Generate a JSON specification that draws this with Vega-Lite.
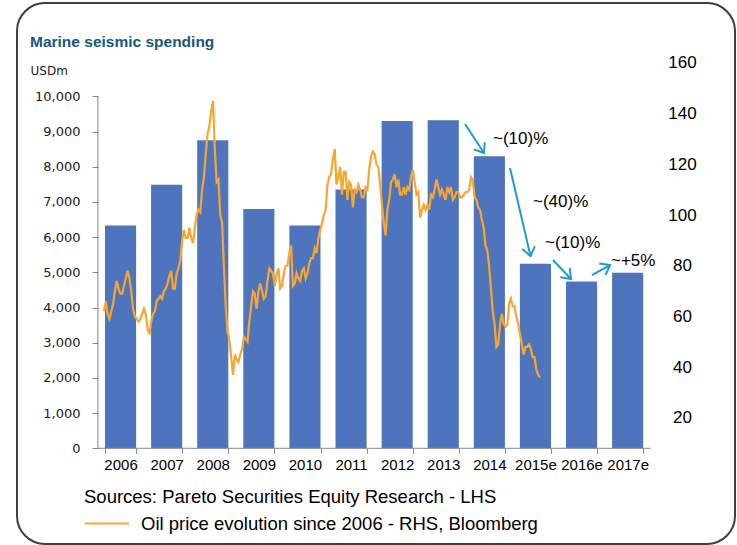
{
  "$schema": "https://vega.github.io/schema/vega-lite/v6.json",
  "width": 718,
  "height": 541,
  "autosize": {"type": "none"},
  "padding": {"left": 17, "top": 3, "right": 2, "bottom": 1},
  "background": "white",
  "config": {
    "view": {"stroke": "#3f3f3f", "strokeWidth": 2, "cornerRadius": 28},
    "font": "Liberation Sans"
  },
  "title": {
    "text": "Marine seismic spending",
    "anchor": "start",
    "frame": "group",
    "offset": 0,
    "dx": 13,
    "dy": 59,
    "baseline": "alphabetic",
    "font": "Liberation Sans",
    "fontSize": 15.5,
    "fontWeight": "bold",
    "color": "#17587A"
  },
  "datasets": {
    "spend": [
      {"year": "2006", "usdm": 6330},
      {"year": "2007", "usdm": 7490},
      {"year": "2008", "usdm": 8750},
      {"year": "2009", "usdm": 6800},
      {"year": "2010", "usdm": 6330},
      {"year": "2011", "usdm": 7350},
      {"year": "2012", "usdm": 9300},
      {"year": "2013", "usdm": 9320},
      {"year": "2014", "usdm": 8300},
      {"year": "2015e", "usdm": 5240},
      {"year": "2016e", "usdm": 4740},
      {"year": "2017e", "usdm": 4990}
    ],
    "frame": [
      {"x": 2005.86, "x2": 2005.86, "y": 0, "y2": 10000},
      {"x": 2005.86, "x2": 2018.54, "y": 0, "y2": 0}
    ],
    "arrows": [
      {"x0": 2014.280, "y0": 9213, "x1": 2014.716, "y1": 8389, "ang": 56.8},
      {"x0": 2015.312, "y0": 7963, "x1": 2015.782, "y1": 5463, "ang": 76.9},
      {"x0": 2016.298, "y0": 5349, "x1": 2016.711, "y1": 4810, "ang": 46.5},
      {"x0": 2017.193, "y0": 4923, "x1": 2017.606, "y1": 5207, "ang": -29}
    ],
    "notes": [
      {"x": 2014.922, "y": 8787, "label": "~(10)%"},
      {"x": 2015.839, "y": 7006, "label": "~(40)%"},
      {"x": 2016.115, "y": 5832, "label": "~(10)%"},
      {"x": 2017.628, "y": 5335, "label": "~+5%"}
    ],
    "oil": [
      {"t":2006.000,"p":62},{"t":2006.042,"p":66},{"t":2006.083,"p":61},{"t":2006.125,"p":59},{"t":2006.167,"p":62},{"t":2006.208,"p":65},{"t":2006.250,"p":70},{"t":2006.292,"p":74},{"t":2006.333,"p":71},{"t":2006.375,"p":69},{"t":2006.417,"p":69},{"t":2006.458,"p":72},{"t":2006.500,"p":75},{"t":2006.542,"p":78},{"t":2006.583,"p":75},{"t":2006.625,"p":70},{"t":2006.667,"p":63},{"t":2006.708,"p":60},{"t":2006.750,"p":59},{"t":2006.792,"p":58},{"t":2006.833,"p":59},{"t":2006.875,"p":61},{"t":2006.917,"p":63},{"t":2006.958,"p":61},
      {"t":2007.000,"p":55},{"t":2007.042,"p":53},{"t":2007.083,"p":58},{"t":2007.125,"p":61},{"t":2007.167,"p":62},{"t":2007.208,"p":66},{"t":2007.250,"p":67},{"t":2007.292,"p":68},{"t":2007.333,"p":67},{"t":2007.375,"p":70},{"t":2007.417,"p":71},{"t":2007.458,"p":73},{"t":2007.500,"p":76},{"t":2007.542,"p":78},{"t":2007.583,"p":71},{"t":2007.625,"p":71},{"t":2007.667,"p":77},{"t":2007.708,"p":79},{"t":2007.750,"p":82},{"t":2007.792,"p":90},{"t":2007.833,"p":94},{"t":2007.875,"p":91},{"t":2007.917,"p":91},{"t":2007.958,"p":95},
      {"t":2008.000,"p":91},{"t":2008.042,"p":89},{"t":2008.083,"p":95},{"t":2008.125,"p":100},{"t":2008.167,"p":102},{"t":2008.208,"p":101},{"t":2008.250,"p":110},{"t":2008.292,"p":115},{"t":2008.333,"p":124},{"t":2008.375,"p":132},{"t":2008.417,"p":135},{"t":2008.458,"p":141},{"t":2008.500,"p":145},{"t":2008.542,"p":126},{"t":2008.583,"p":113},{"t":2008.625,"p":114},{"t":2008.667,"p":100},{"t":2008.708,"p":97},{"t":2008.750,"p":80},{"t":2008.792,"p":64},{"t":2008.833,"p":54},{"t":2008.875,"p":51},{"t":2008.917,"p":44},{"t":2008.958,"p":37},
      {"t":2009.000,"p":45},{"t":2009.042,"p":43},{"t":2009.083,"p":42},{"t":2009.125,"p":45},{"t":2009.167,"p":47},{"t":2009.208,"p":52},{"t":2009.250,"p":51},{"t":2009.292,"p":50},{"t":2009.333,"p":58},{"t":2009.375,"p":64},{"t":2009.417,"p":70},{"t":2009.458,"p":69},{"t":2009.500,"p":63},{"t":2009.542,"p":70},{"t":2009.583,"p":73},{"t":2009.625,"p":70},{"t":2009.667,"p":67},{"t":2009.708,"p":68},{"t":2009.750,"p":74},{"t":2009.792,"p":79},{"t":2009.833,"p":78},{"t":2009.875,"p":77},{"t":2009.917,"p":72},{"t":2009.958,"p":77},
      {"t":2010.000,"p":79},{"t":2010.042,"p":71},{"t":2010.083,"p":72},{"t":2010.125,"p":77},{"t":2010.167,"p":80},{"t":2010.208,"p":80},{"t":2010.250,"p":85},{"t":2010.292,"p":88},{"t":2010.333,"p":72},{"t":2010.375,"p":73},{"t":2010.417,"p":77},{"t":2010.458,"p":75},{"t":2010.500,"p":74},{"t":2010.542,"p":78},{"t":2010.583,"p":79},{"t":2010.625,"p":75},{"t":2010.667,"p":77},{"t":2010.708,"p":81},{"t":2010.750,"p":83},{"t":2010.792,"p":83},{"t":2010.833,"p":87},{"t":2010.875,"p":85},{"t":2010.917,"p":91},{"t":2010.958,"p":94},
      {"t":2011.000,"p":97},{"t":2011.042,"p":100},{"t":2011.083,"p":102},{"t":2011.125,"p":112},{"t":2011.167,"p":115},{"t":2011.208,"p":116},{"t":2011.250,"p":122},{"t":2011.292,"p":126},{"t":2011.333,"p":112},{"t":2011.375,"p":115},{"t":2011.417,"p":119},{"t":2011.458,"p":108},{"t":2011.500,"p":117},{"t":2011.542,"p":117},{"t":2011.583,"p":106},{"t":2011.625,"p":113},{"t":2011.667,"p":112},{"t":2011.708,"p":103},{"t":2011.750,"p":110},{"t":2011.792,"p":109},{"t":2011.833,"p":112},{"t":2011.875,"p":110},{"t":2011.917,"p":107},{"t":2011.958,"p":107},
      {"t":2012.000,"p":111},{"t":2012.042,"p":110},{"t":2012.083,"p":118},{"t":2012.125,"p":123},{"t":2012.167,"p":125},{"t":2012.208,"p":124},{"t":2012.250,"p":120},{"t":2012.292,"p":119},{"t":2012.333,"p":112},{"t":2012.375,"p":104},{"t":2012.417,"p":97},{"t":2012.458,"p":92},{"t":2012.500,"p":102},{"t":2012.542,"p":106},{"t":2012.583,"p":113},{"t":2012.625,"p":114},{"t":2012.667,"p":116},{"t":2012.708,"p":111},{"t":2012.750,"p":114},{"t":2012.792,"p":108},{"t":2012.833,"p":108},{"t":2012.875,"p":111},{"t":2012.917,"p":108},{"t":2012.958,"p":111},
      {"t":2013.000,"p":110},{"t":2013.042,"p":115},{"t":2013.083,"p":118},{"t":2013.125,"p":113},{"t":2013.167,"p":108},{"t":2013.208,"p":109},{"t":2013.250,"p":99},{"t":2013.292,"p":102},{"t":2013.333,"p":104},{"t":2013.375,"p":102},{"t":2013.417,"p":104},{"t":2013.458,"p":102},{"t":2013.500,"p":108},{"t":2013.542,"p":107},{"t":2013.583,"p":110},{"t":2013.625,"p":114},{"t":2013.667,"p":111},{"t":2013.708,"p":108},{"t":2013.750,"p":110},{"t":2013.792,"p":108},{"t":2013.833,"p":106},{"t":2013.875,"p":111},{"t":2013.917,"p":109},{"t":2013.958,"p":111},
      {"t":2014.000,"p":106},{"t":2014.042,"p":107},{"t":2014.083,"p":109},{"t":2014.125,"p":109},{"t":2014.167,"p":107},{"t":2014.208,"p":107},{"t":2014.250,"p":108},{"t":2014.292,"p":109},{"t":2014.333,"p":109},{"t":2014.375,"p":110},{"t":2014.417,"p":115},{"t":2014.458,"p":114},{"t":2014.500,"p":107},{"t":2014.542,"p":106},{"t":2014.583,"p":103},{"t":2014.625,"p":102},{"t":2014.667,"p":98},{"t":2014.708,"p":95},{"t":2014.750,"p":88},{"t":2014.792,"p":86},{"t":2014.833,"p":80},{"t":2014.875,"p":71},{"t":2014.917,"p":62},{"t":2014.958,"p":57},
      {"t":2015.000,"p":48},{"t":2015.042,"p":49},{"t":2015.083,"p":57},{"t":2015.125,"p":61},{"t":2015.167,"p":57},{"t":2015.208,"p":56},{"t":2015.250,"p":57},{"t":2015.292,"p":65},{"t":2015.333,"p":67},{"t":2015.375,"p":64},{"t":2015.417,"p":64},{"t":2015.458,"p":60},{"t":2015.500,"p":57},{"t":2015.542,"p":53},{"t":2015.583,"p":49},{"t":2015.625,"p":45},{"t":2015.667,"p":48},{"t":2015.708,"p":48},{"t":2015.750,"p":49},{"t":2015.792,"p":47},{"t":2015.833,"p":44},{"t":2015.875,"p":44},{"t":2015.917,"p":39},{"t":2015.958,"p":37},
      {"t":2016.000,"p":36}
    ]
  },
  "layer": [
    {
      "data": {"name": "spend"},
      "mark": {"type": "bar", "color": "#4E74BD"},
      "encoding": {
        "x": {
          "field": "year", "type": "ordinal", "sort": null,
          "scale": {"range": [80.5, 633.7], "paddingInner": 0.325, "paddingOuter": 0.1625},
          "axis": {
            "title": null, "orient": "bottom", "offset": -95.7, "domain": false,
            "tickBand": "extent", "tickColor": "#868686", "tickSize": 5, "tickWidth": 1,
            "labelPadding": 4, "labelFont": "Liberation Sans", "labelFontSize": 15,
            "labelColor": "#000000", "labelAngle": 0, "labelOverlap": false, "labelFlush": false, "grid": false
          }
        },
        "y": {
          "field": "usdm", "type": "quantitative",
          "scale": {"domain": [-2719, 12651], "nice": false, "zero": false},
          "axis": {
            "title": "USDm", "titleAngle": 0, "titleX": -68, "titleY": 67,
            "titleAlign": "left", "titleBaseline": "middle", "titleFont": "DejaVu Sans",
            "titleFontSize": 12, "titleFontWeight": "normal", "titleColor": "#222222",
            "values": [0, 1000, 2000, 3000, 4000, 5000, 6000, 7000, 8000, 9000, 10000],
            "format": ",d", "domain": false, "grid": false, "offset": -81,
            "tickColor": "#868686", "tickSize": 6, "labelPadding": 12,
            "labelFont": "DejaVu Sans", "labelFontSize": 13, "labelColor": "#222222"
          }
        },
        "y2": {"datum": 0}
      }
    },
    {
      "data": {"name": "frame"},
      "mark": {"type": "rule", "color": "#868686", "strokeWidth": 1},
      "encoding": {
        "x": {"field": "x", "type": "quantitative", "scale": {"domain": [2004.0046, 2020.4725], "nice": false, "zero": false}, "axis": null},
        "x2": {"field": "x2"},
        "y": {"field": "y", "type": "quantitative", "scale": {"domain": [-2719, 12651], "nice": false, "zero": false}, "axis": null},
        "y2": {"field": "y2"}
      }
    },
    {
      "data": {"name": "oil"},
      "mark": {"type": "line", "strokeWidth": 2.2},
      "encoding": {
        "x": {"field": "t", "type": "quantitative", "scale": {"domain": [2004.0046, 2020.4725], "nice": false, "zero": false}, "axis": null},
        "y": {
          "field": "p", "type": "quantitative",
          "scale": {"domain": [-29.7, 183.6], "nice": false, "zero": false},
          "axis": {
            "orient": "right", "title": null, "values": [20, 40, 60, 80, 100, 120, 140, 160],
            "domain": false, "ticks": false, "tickSize": 0, "grid": false, "offset": -53,
            "labelPadding": 0, "labelAlign": "center", "labelFont": "Liberation Sans",
            "labelFontSize": 17, "labelColor": "#000000"
          }
        },
        "color": {
          "datum": "Oil price evolution since 2006 - RHS, Bloomberg", "type": "nominal",
          "scale": {"range": ["#F8A630"]},
          "legend": {
            "title": "Sources: Pareto Securities Equity Research - LHS",
            "orient": "none", "legendX": 67, "legendY": 485, "padding": 0,
            "symbolType": "stroke", "symbolSize": 1936, "symbolStrokeWidth": 2,
            "titleFont": "Liberation Sans", "titleFontSize": 18.5, "titleFontWeight": "normal",
            "titleColor": "#000000", "titlePadding": -6, "titleLimit": 1000,
            "labelFont": "Liberation Sans", "labelFontSize": 18.5, "labelColor": "#000000",
            "labelOffset": 11, "labelLimit": 1000
          }
        }
      }
    },
    {
      "data": {"name": "arrows"},
      "mark": {"type": "rule", "color": "#1E9AD6", "strokeWidth": 2},
      "encoding": {
        "x": {"field": "x0", "type": "quantitative", "scale": {"domain": [2004.0046, 2020.4725], "nice": false, "zero": false}, "axis": null},
        "x2": {"field": "x1"},
        "y": {"field": "y0", "type": "quantitative", "scale": {"domain": [-2719, 12651], "nice": false, "zero": false}, "axis": null},
        "y2": {"field": "y1"}
      }
    },
    {
      "data": {"name": "arrows"},
      "mark": {"type": "point", "shape": "M-1,-0.75L0,0L-1,0.75", "filled": false, "size": 300, "strokeWidth": 2, "color": "#1E9AD6", "opacity": 1},
      "encoding": {
        "x": {"field": "x1", "type": "quantitative", "scale": {"domain": [2004.0046, 2020.4725], "nice": false, "zero": false}, "axis": null},
        "y": {"field": "y1", "type": "quantitative", "scale": {"domain": [-2719, 12651], "nice": false, "zero": false}, "axis": null},
        "angle": {"field": "ang", "type": "quantitative", "scale": null}
      }
    },
    {
      "data": {"name": "notes"},
      "mark": {"type": "text", "align": "left", "baseline": "middle", "font": "Liberation Sans", "fontSize": 17, "color": "#000000"},
      "encoding": {
        "x": {"field": "x", "type": "quantitative", "scale": {"domain": [2004.0046, 2020.4725], "nice": false, "zero": false}, "axis": null},
        "y": {"field": "y", "type": "quantitative", "scale": {"domain": [-2719, 12651], "nice": false, "zero": false}, "axis": null},
        "text": {"field": "label"}
      }
    }
  ],
  "resolve": {"scale": {"x": "independent", "y": "independent"}}
}
